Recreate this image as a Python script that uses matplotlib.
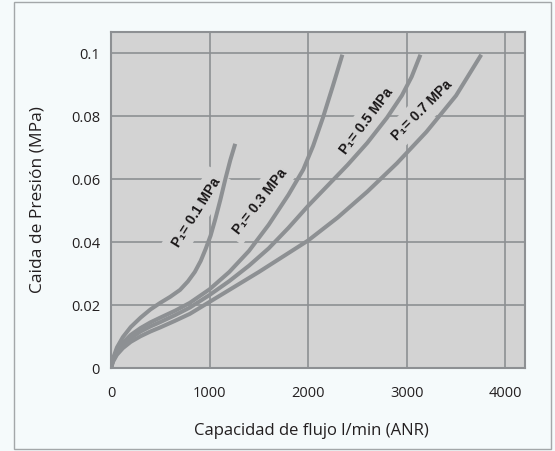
import matplotlib
matplotlib.use("Agg")
import matplotlib.pyplot as plt
from matplotlib.patches import Rectangle

plt.rcParams['font.family'] = ['Open Sans', 'DejaVu Sans']

# Caudal (l/min ANR) y caida de presion (MPa) para cada presion de entrada
flow_01 = [0, 20, 60, 120, 200, 300, 400, 500, 600, 700, 780, 850, 910, 960, 1010,
           1060, 1110, 1160, 1210, 1260]
drop_01 = [0, 0.0030, 0.0065, 0.0098, 0.0130, 0.0160, 0.0186, 0.0207, 0.0226, 0.0248,
           0.0275, 0.0305, 0.0340, 0.0378, 0.0420, 0.0475, 0.0535, 0.0600, 0.0660, 0.0712]

flow_03 = [0, 20, 60, 120, 200, 300, 400, 500, 650, 800, 1000, 1200, 1400, 1600, 1800,
           1950, 2050, 2150, 2250, 2347]
drop_03 = [0, 0.0025, 0.0052, 0.0080, 0.0105, 0.0127, 0.0145, 0.0160, 0.0182, 0.0207,
           0.0250, 0.0305, 0.0372, 0.0455, 0.0550, 0.0630, 0.0705, 0.0795, 0.0895, 0.0995]

flow_05 = [0, 20, 60, 120, 200, 300, 400, 500, 650, 800, 1000, 1200, 1400, 1600, 1800,
           2000, 2200, 2400, 2600, 2800, 2950, 3050, 3139]
drop_05 = [0, 0.0022, 0.0047, 0.0072, 0.0095, 0.0116, 0.0132, 0.0146, 0.0168, 0.0192,
           0.0232, 0.0276, 0.0325, 0.0380, 0.0445, 0.0515, 0.0580, 0.0645, 0.0715, 0.0795,
           0.0865, 0.0925, 0.0995]

flow_07 = [0, 20, 60, 120, 200, 300, 400, 500, 650, 800, 1000, 1200, 1500, 1800, 2000,
           2300, 2600, 2900, 3200, 3500, 3756]
drop_07 = [0, 0.0020, 0.0042, 0.0063, 0.0083, 0.0101, 0.0116, 0.0129, 0.0150, 0.0172,
           0.0210, 0.0248, 0.0305, 0.0365, 0.0405, 0.0478, 0.0560, 0.0650, 0.0750, 0.0865,
           0.0995]

curve_labels = ["P\u2081= 0.1 MPa", "P\u2081= 0.3 MPa", "P\u2081= 0.5 MPa", "P\u2081= 0.7 MPa"]
label_x = [867, 1508, 2597, 3155]
label_y = [0.0495, 0.0530, 0.0785, 0.0817]
label_rot = [58, 52, 53, 45]

x_ticks = [0, 1000, 2000, 3000, 4000]
y_ticks = [0, 0.02, 0.04, 0.06, 0.08, 0.1]
y_tick_labels = ["0", "0.02", "0.04", "0.06", "0.08", "0.1"]

bg = '#f5fafb'
panel = '#d3d3d3'
gray = '#8d9093'
ink = '#1a1718'

fig = plt.figure(figsize=(5.55, 4.51), dpi=100, facecolor=bg)
ax = fig.add_axes([0.2, 0.184, 0.746, 0.745])
ax.set_facecolor(panel)

# marco exterior
fig.patches.append(Rectangle((0.0252, 0.0044), 0.9676, 0.991, transform=fig.transFigure,
                             fill=False, edgecolor='#a3a7a9', linewidth=1))

for fx, dy in [(flow_01, drop_01), (flow_03, drop_03), (flow_05, drop_05), (flow_07, drop_07)]:
    ax.plot(fx, dy, color=gray, linewidth=2.9, solid_capstyle='butt',
            solid_joinstyle='round', zorder=4)

for txt, lx, ly, rot in zip(curve_labels, label_x, label_y, label_rot):
    ax.text(lx, ly, txt, rotation=rot, rotation_mode='anchor', ha='center', va='center',
            fontsize=10, fontweight='bold', color=ink, zorder=3,
            family=['Liberation Sans', 'DejaVu Sans'],
            bbox=dict(boxstyle='square,pad=0.45', facecolor=panel, edgecolor='none'))

ax.set_xlim(0, 4200)
ax.set_ylim(0, 0.1067)
ax.set_xticks(x_ticks)
ax.set_yticks(y_ticks)
ax.set_yticklabels(y_tick_labels)
ax.grid(True, color=gray, linewidth=1.2, zorder=1)
ax.set_axisbelow(True)
ax.tick_params(length=0, labelsize=10.5, labelcolor='#231f20')
ax.tick_params(axis='x', pad=13)
ax.tick_params(axis='y', pad=8)
for s in ax.spines.values():
    s.set_color(gray)
    s.set_linewidth(1.5)

ax.set_xlabel("Capacidad de flujo l/min (ANR)", fontsize=12, color='#231f20')
ax.xaxis.set_label_coords(0.483, -0.165)
ax.set_ylabel("Caida de Presión (MPa)", fontsize=12.5, color='#231f20', labelpad=18)

fig.savefig("out.png", dpi=100, facecolor=bg)
